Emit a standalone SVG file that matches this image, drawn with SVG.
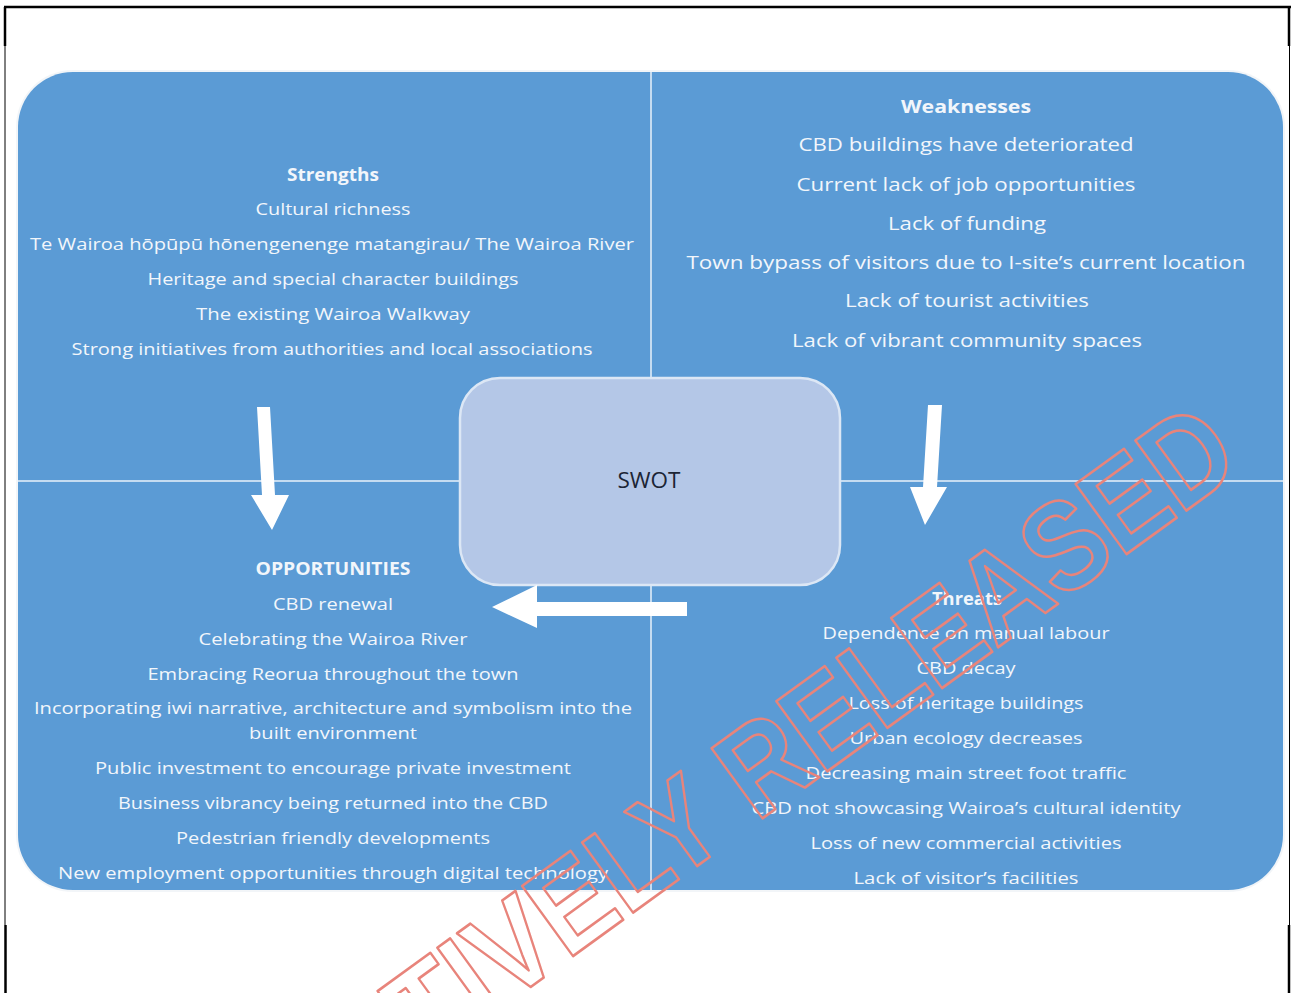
<svg xmlns="http://www.w3.org/2000/svg" width="1291" height="993" viewBox="0 0 1291 993">
<style>
.t{font-family:"Open Sans","Liberation Sans",sans-serif;fill:#f2f6fb;text-anchor:middle;font-size:17px}
.w{font-size:18.5px}
.b{font-weight:bold}
.div{stroke:#c5dcf1;stroke-width:2;fill:none}
.arrow{fill:#ffffff}
.border{stroke:#000;fill:none}
</style>
<rect x="0" y="0" width="1291" height="993" fill="#ffffff"/>
<g id="page-border">
<line class="border" x1="4" y1="7" x2="1291" y2="7" stroke-width="2.5"/>
<line class="border" x1="5" y1="7" x2="5" y2="46" stroke-width="2.5"/>
<line class="border" x1="5" y1="46" x2="5" y2="925" stroke-width="1"/>
<line class="border" x1="5.5" y1="925" x2="5.5" y2="993" stroke-width="2.5"/>
<line class="border" x1="1289" y1="7" x2="1289" y2="46" stroke-width="2.5"/>
<line class="border" x1="1289.5" y1="46" x2="1289.5" y2="925" stroke-width="1"/>
<line class="border" x1="1289" y1="925" x2="1289" y2="993" stroke-width="2.5"/>
</g>
<g id="background">
<rect x="16" y="70" width="1269" height="822" rx="57" fill="#e9eef4" opacity="0.6"/>
<rect x="18" y="72" width="1265" height="818" rx="55" fill="#5b9bd5"/>
<line class="div" x1="651" y1="72" x2="651" y2="890"/>
<line class="div" x1="18" y1="481" x2="1283" y2="481"/>
</g>
<g id="strengths">
<text class="t b" x="333" y="181" textLength="92" lengthAdjust="spacingAndGlyphs">Strengths</text>
<text class="t" x="333" y="215" textLength="155" lengthAdjust="spacingAndGlyphs">Cultural richness</text>
<text class="t" x="332" y="250" textLength="604" lengthAdjust="spacingAndGlyphs">Te Wairoa hōpūpū hōnengenenge matangirau/ The Wairoa River</text>
<text class="t" x="333" y="285" textLength="371" lengthAdjust="spacingAndGlyphs">Heritage and special character buildings</text>
<text class="t" x="333" y="320" textLength="274" lengthAdjust="spacingAndGlyphs">The existing Wairoa Walkway</text>
<text class="t" x="332" y="355" textLength="521" lengthAdjust="spacingAndGlyphs">Strong initiatives from authorities and local associations</text>
</g>
<g id="weaknesses">
<text class="t w b" x="966" y="113" textLength="130" lengthAdjust="spacingAndGlyphs">Weaknesses</text>
<text class="t w" x="966" y="151" textLength="335" lengthAdjust="spacingAndGlyphs">CBD buildings have deteriorated</text>
<text class="t w" x="966" y="191" textLength="339" lengthAdjust="spacingAndGlyphs">Current lack of job opportunities</text>
<text class="t w" x="967" y="230" textLength="158" lengthAdjust="spacingAndGlyphs">Lack of funding</text>
<text class="t w" x="966" y="269" textLength="559" lengthAdjust="spacingAndGlyphs">Town bypass of visitors due to I-site’s current location</text>
<text class="t w" x="967" y="307" textLength="244" lengthAdjust="spacingAndGlyphs">Lack of tourist activities</text>
<text class="t w" x="967" y="347" textLength="350" lengthAdjust="spacingAndGlyphs">Lack of vibrant community spaces</text>
</g>
<g id="opportunities">
<text class="t b" x="333" y="575" textLength="155" lengthAdjust="spacingAndGlyphs">OPPORTUNITIES</text>
<text class="t" x="333" y="610" textLength="120" lengthAdjust="spacingAndGlyphs">CBD renewal</text>
<text class="t" x="333" y="645" textLength="269" lengthAdjust="spacingAndGlyphs">Celebrating the Wairoa River</text>
<text class="t" x="333" y="680" textLength="371" lengthAdjust="spacingAndGlyphs">Embracing Reorua throughout the town</text>
<text class="t" x="333" y="714" textLength="598" lengthAdjust="spacingAndGlyphs">Incorporating iwi narrative, architecture and symbolism into the</text>
<text class="t" x="333" y="739" textLength="168" lengthAdjust="spacingAndGlyphs">built environment</text>
<text class="t" x="333" y="774" textLength="476" lengthAdjust="spacingAndGlyphs">Public investment to encourage private investment</text>
<text class="t" x="333" y="809" textLength="430" lengthAdjust="spacingAndGlyphs">Business vibrancy being returned into the CBD</text>
<text class="t" x="333" y="844" textLength="314" lengthAdjust="spacingAndGlyphs">Pedestrian friendly developments</text>
<text class="t" x="333" y="879" textLength="550" lengthAdjust="spacingAndGlyphs">New employment opportunities through digital technology</text>
</g>
<g id="threats">
<text class="t b" x="967" y="605" textLength="70" lengthAdjust="spacingAndGlyphs">Threats</text>
<text class="t" x="966" y="639" textLength="287" lengthAdjust="spacingAndGlyphs">Dependence on manual labour</text>
<text class="t" x="966" y="674" textLength="99" lengthAdjust="spacingAndGlyphs">CBD decay</text>
<text class="t" x="966" y="709" textLength="235" lengthAdjust="spacingAndGlyphs">Loss of heritage buildings</text>
<text class="t" x="966" y="744" textLength="233" lengthAdjust="spacingAndGlyphs">Urban ecology decreases</text>
<text class="t" x="966" y="779" textLength="321" lengthAdjust="spacingAndGlyphs">Decreasing main street foot traffic</text>
<text class="t" x="966" y="814" textLength="429" lengthAdjust="spacingAndGlyphs">CBD not showcasing Wairoa’s cultural identity</text>
<text class="t" x="966" y="849" textLength="311" lengthAdjust="spacingAndGlyphs">Loss of new commercial activities</text>
<text class="t" x="966" y="884" textLength="225" lengthAdjust="spacingAndGlyphs">Lack of visitor’s facilities</text>
</g>
<g id="swot">
<rect x="460" y="378" width="380" height="207" rx="40" fill="#b4c7e7" stroke="#dce7f5" stroke-width="2.5"/>
<text x="649" y="488" font-family="'Open Sans','Liberation Sans',sans-serif" font-size="21" fill="#1c2535" text-anchor="middle" textLength="63" lengthAdjust="spacingAndGlyphs">SWOT</text>
</g>
<g id="connectors">
<polygon class="arrow" points="257,407 270,407 275,495 289,495 272,530 251,495 262,495"/>
<polygon class="arrow" points="928,405 942,405 937,487 947,487 925,525 910,487 923,487"/>
<polygon class="arrow" points="687,602 687,616 537,616 537,628 492,607 537,585 537,602"/>
</g>
<g id="watermark">
<g transform="translate(1245 468) rotate(-36) scale(0.88 1)">
<text x="0" y="0" font-family="'Liberation Sans',Arial,sans-serif" font-weight="bold" font-size="126" text-anchor="end" fill="none" stroke="#e8847b" stroke-width="2.6" stroke-linejoin="round">PROACTIVELY RELEASED</text>
</g>
</g>
</svg>
